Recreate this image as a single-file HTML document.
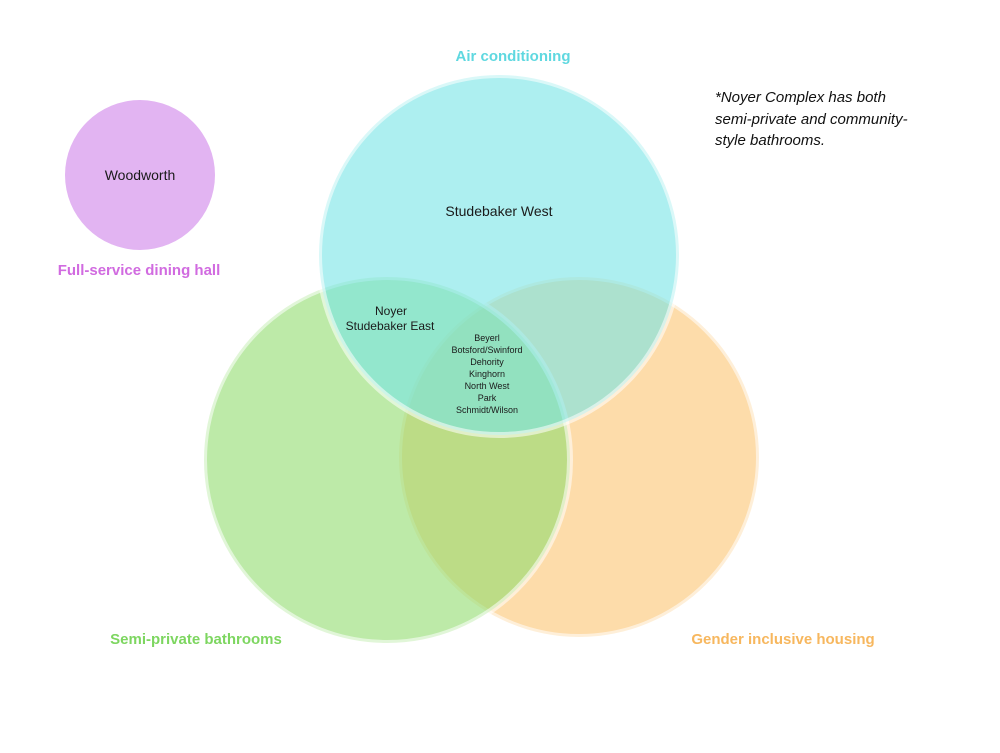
<!DOCTYPE html>
<html><head><meta charset="utf-8"><style>
body{margin:0;background:#fff;width:1000px;height:748px;overflow:hidden}
text{font-family:"Liberation Sans",sans-serif}
</style></head><body>
<svg width="1000" height="748" viewBox="0 0 1000 748">
<circle cx="140" cy="175" r="75" fill="#e2b4f2"/>
<g stroke="#ffffff" stroke-opacity="0.55" stroke-width="6">
<circle cx="579" cy="457" r="180" fill="#fcc571" fill-opacity="0.6"/>
<circle cx="387" cy="460" r="183" fill="#91dc6e" fill-opacity="0.6"/>
<circle cx="499" cy="255" r="180" fill="#76e4e6" fill-opacity="0.6"/>
</g>
<g text-anchor="middle" fill="#1a1a1a">
<text x="140" y="180" font-size="14">Woodworth</text>
<text x="499" y="216" font-size="14">Studebaker West</text>
<text x="391" y="315" font-size="12">Noyer</text>
<text x="390" y="330" font-size="12">Studebaker East</text>
<g font-size="9">
<text x="487" y="341">Beyerl</text>
<text x="487" y="353">Botsford/Swinford</text>
<text x="487" y="365">Dehority</text>
<text x="487" y="377">Kinghorn</text>
<text x="487" y="389">North West</text>
<text x="487" y="401">Park</text>
<text x="487" y="413">Schmidt/Wilson</text>
</g>
<g font-size="15" font-weight="bold">
<text x="513" y="61" fill="#5fd8e0">Air conditioning</text>
<text x="139" y="275" fill="#d16be0">Full-service dining hall</text>
<text x="196" y="644" fill="#7dd660">Semi-private bathrooms</text>
<text x="783" y="644" fill="#f7b75e">Gender inclusive housing</text>
</g>
</g>
<g font-size="15" font-style="italic" fill="#111">
<text x="715" y="102">*Noyer Complex has both</text>
<text x="715" y="124">semi-private and community-</text>
<text x="715" y="145">style bathrooms.</text>
</g>
</svg>
</body></html>
